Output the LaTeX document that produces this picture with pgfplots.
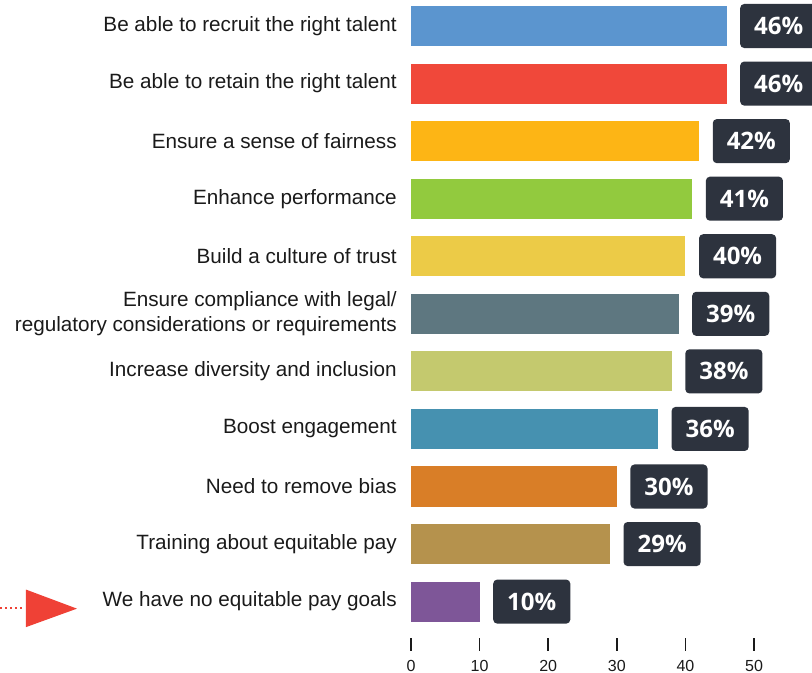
\documentclass[border=0pt]{standalone}
\usepackage{pgfplots}
\pgfplotsset{compat=1.18}
\usepackage{fontspec}
\setmainfont{Liberation Sans}
\newfontfamily\valfont{Open Sans}

\definecolor{txt}{HTML}{1A1A1A}
\definecolor{boxc}{HTML}{2D333E}
\definecolor{arrowred}{HTML}{EF4136}
\definecolor{c1}{HTML}{5B95CF}
\definecolor{c2}{HTML}{F0483A}
\definecolor{c3}{HTML}{FDB515}
\definecolor{c4}{HTML}{92CA3E}
\definecolor{c5}{HTML}{ECCB47}
\definecolor{c6}{HTML}{5E7780}
\definecolor{c7}{HTML}{C4C96E}
\definecolor{c8}{HTML}{4691B0}
\definecolor{c9}{HTML}{D97E27}
\definecolor{c10}{HTML}{B5924D}
\definecolor{c11}{HTML}{7E5698}

\begin{document}
\begin{tikzpicture}
\begin{axis}[
    xbar,
    bar width=30pt,
    bar shift=0pt,
    scale only axis,
    width=257pt,
    height=479.8pt,
    xmin=0, xmax=50,
    ymin=-0.5, ymax=10.626,
    y dir=reverse,
    clip=false,
    axis line style={draw=none},
    xtick={0,10,...,50},
    ytick={0,...,10},
    yticklabels={
        Be able to recruit the right talent,
        Be able to retain the right talent,
        Ensure a sense of fairness,
        Enhance performance,
        Build a culture of trust,
        {Ensure compliance with legal/\\regulatory considerations or requirements},
        Increase diversity and inclusion,
        Boost engagement,
        Need to remove bias,
        Training about equitable pay,
        We have no equitable pay goals},
    tick align=outside,
    major tick length=9.75pt,
    xtick style={draw=txt, line width=1.1pt},
    ytick style={draw=none},
    yticklabel style={font=\fontsize{15.5}{18.75}\selectfont, text=txt, align=right, anchor=east, inner sep=0pt, xshift=-0.75pt},
    xticklabel style={font=\fontsize{12}{13}\selectfont, text=txt, inner sep=0pt, yshift=-7pt},
    /pgf/number format/assume math mode=true,
    point meta=x,
    nodes near coords={\pgfmathprintnumber{\pgfplotspointmeta}\%},
    nodes near coords style={anchor=west, xshift=10pt, fill=boxc, text=white,
        font=\valfont\bfseries\fontsize{18}{20}\selectfont,
        minimum width=57.75pt, minimum height=33pt, inner sep=0pt,
        rounded corners=3pt},
]
\addplot[fill=c1, draw=none] coordinates {(46,0)};
\addplot[fill=c2, draw=none] coordinates {(46,1)};
\addplot[fill=c3, draw=none] coordinates {(42,2)};
\addplot[fill=c4, draw=none] coordinates {(41,3)};
\addplot[fill=c5, draw=none] coordinates {(40,4)};
\addplot[fill=c6, draw=none] coordinates {(39,5)};
\addplot[fill=c7, draw=none] coordinates {(38,6)};
\addplot[fill=c8, draw=none] coordinates {(36,7)};
\addplot[fill=c9, draw=none] coordinates {(30,8)};
\addplot[fill=c10, draw=none] coordinates {(29,9)};
\addplot[fill=c11, draw=none] coordinates {(10,10)};

% pointer arrow at the last row
\fill[arrowred] (axis cs:-56.12,9.791) -- (axis cs:-48.69,10.122) -- (axis cs:-56.12,10.443) -- cycle;
\draw[arrowred, line width=1.5pt, dash pattern=on 1.5pt off 2.25pt] (axis cs:-59.9,10.104) -- (axis cs:-56.4,10.104);

\coordinate (BL) at (axis cs:-59.91,11.235);
\coordinate (TR) at (axis cs:58.45,-0.452);
\end{axis}
\pgfresetboundingbox
\useasboundingbox (BL) rectangle (TR);
\end{tikzpicture}
\end{document}
